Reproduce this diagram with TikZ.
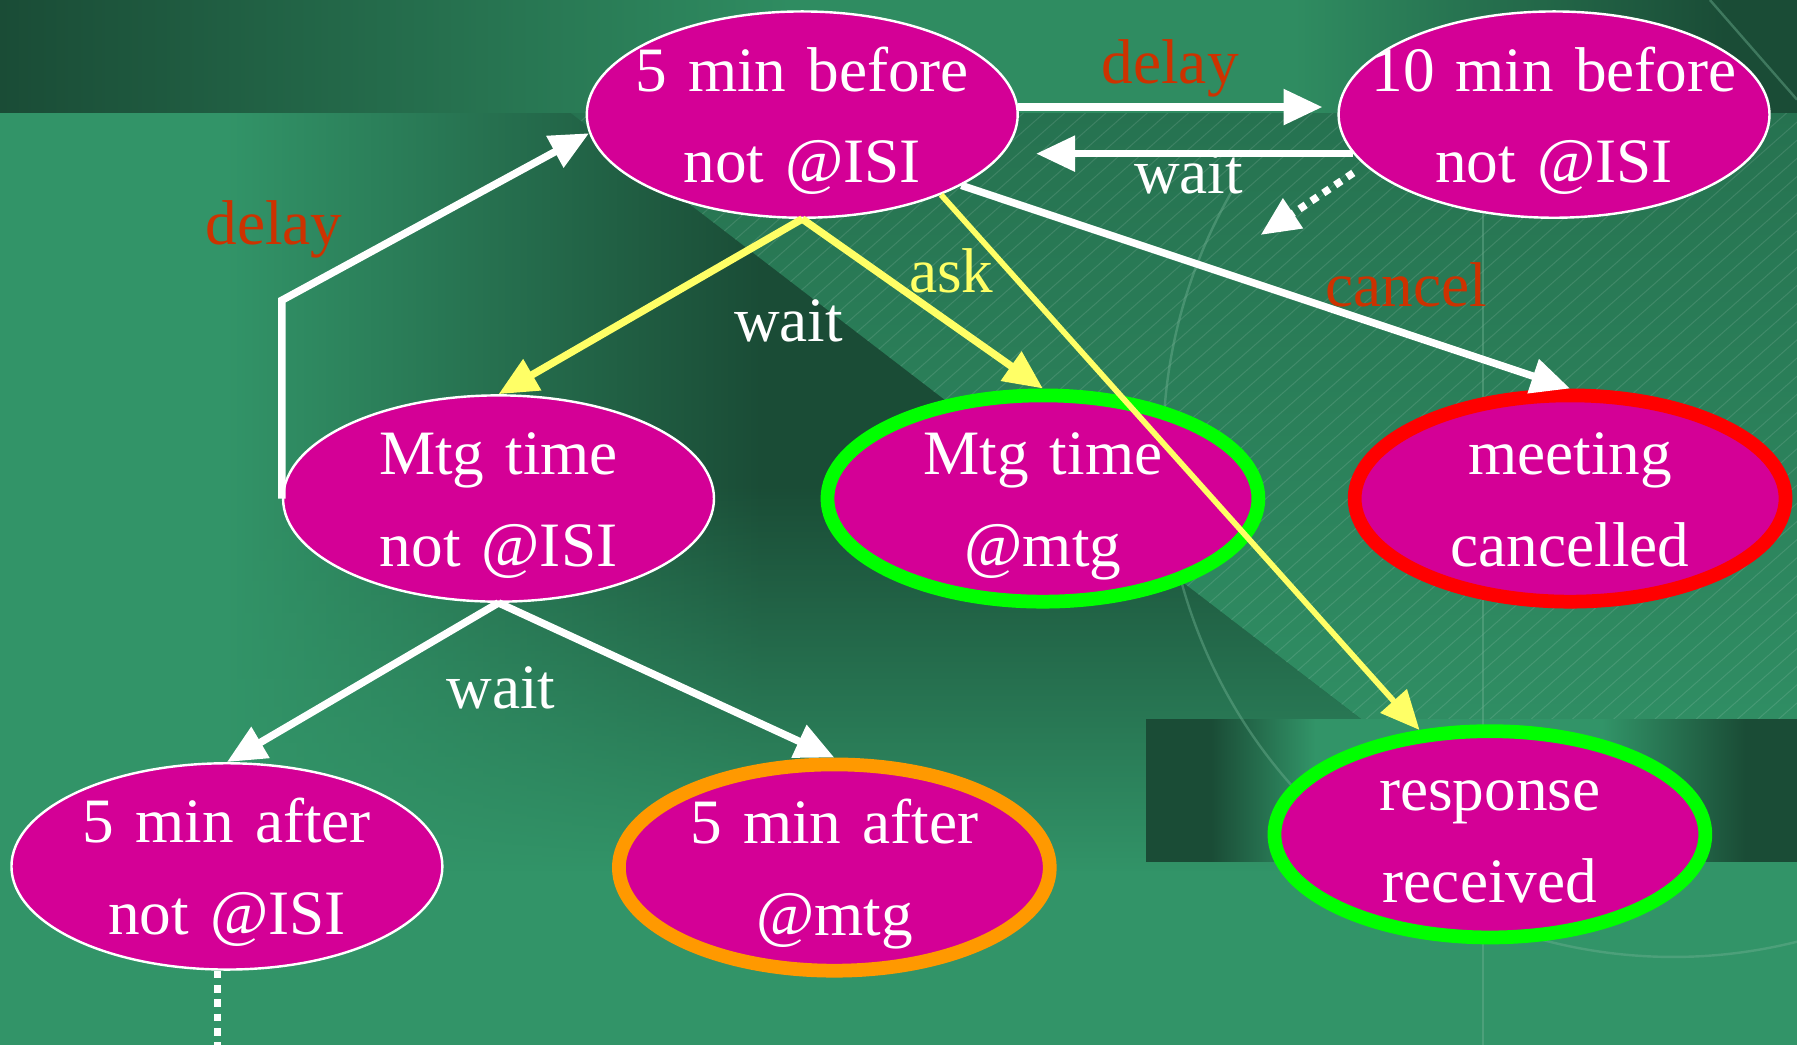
\documentclass[tikz,border=0pt]{standalone}
\usepackage{fontspec}
\setmainfont{Liberation Serif}
\usetikzlibrary{arrows.meta,shapes.geometric,fadings}

\definecolor{bgbase}{RGB}{50,148,104}
\definecolor{bgdark}{RGB}{26,76,54}
\definecolor{bgmid}{RGB}{38,114,80}
\definecolor{bglight}{RGB}{47,140,97}
\definecolor{stmag}{RGB}{212,0,150}
\definecolor{dlyred}{RGB}{205,50,0}
\definecolor{askyel}{RGB}{255,255,102}
\definecolor{okgreen}{RGB}{0,255,0}
\definecolor{badred}{RGB}{255,0,0}
\definecolor{lateorange}{RGB}{255,153,0}

\pgfdeclarehorizontalshading{topband}{100bp}{color(0bp)=(bgdark); color(25bp)=(bgdark); color(47bp)=(bglight); color(61bp)=(bglight); color(73bp)=(bgdark); color(100bp)=(bgdark)}
\pgfdeclarehorizontalshading{midband}{100bp}{color(0bp)=(bgbase); color(33bp)=(bgbase); color(52bp)=(bgdark); color(100bp)=(bgdark)}
\pgfdeclarehorizontalshading{lowband}{100bp}{color(0bp)=(bgdark); color(30bp)=(bgdark); color(38bp)=(bgbase); color(60bp)=(bgbase); color(71bp)=(bgdark); color(100bp)=(bgdark)}

\newcommand{\statefont}{\fontsize{15.7pt}{22.7pt}\selectfont}

\tikzset{
  state/.style={ellipse, draw=white, line width=0.6pt, fill=stmag, text=white,
    font=\statefont, minimum width=3.76cm, minimum height=1.8cm,
    text width=3.5cm, align=center, inner xsep=-0.6cm, inner ysep=0pt,
    text height=11pt, text depth=22.7pt},
  ring/.style={state, line width=0.12cm, draw=#1},
  trans/.style={draw=white, line width=0.065cm, -{Triangle[length=0.34cm,width=0.3cm]}},
  ytrans/.style={trans, draw=askyel},
  dotline/.style={draw=white, line width=0.065cm, dash pattern=on 0.065cm off 0.06cm},
  lbl/.style={font=\statefont, inner sep=0pt},
  hatch/.style={draw=white, opacity=0.11, line width=0.25pt},
  faint/.style={draw=bglight!70!white, opacity=0.45, line width=0.6pt}
}

\begin{document}
\begin{tikzpicture}
\useasboundingbox (0,0) rectangle (15.68,9.12);
\clip (0,0) rectangle (15.68,9.12);

% slide background
\fill[bgbase] (0,0) rectangle (15.68,9.12);
\shade[top color=bgmid, bottom color=bgbase] (0,1.52) rectangle (15.68,8.14);
\begin{scope}
  \clip (0,8.14) -- (4.97,8.14) -- (12.30,2.52) -- (12.30,1.52) -- (0,1.52) -- cycle;
  \shade[shading=midband] (0,1.52) rectangle (12.30,8.14);
  \fill[bgbase, path fading=north] (0,1.5) rectangle (12.4,4.9);
\end{scope}
\begin{scope}
  \clip (4.97,8.14) -- (15.68,8.14) -- (15.68,2.84) -- (11.88,2.84) -- cycle;
  \foreach \i in {0,...,98}
    \draw[hatch] ({-2+0.18*\i},2) -- ++(7,6.16);
\end{scope}
\shade[shading=topband] (0,8.14) rectangle (15.68,9.12);
\shade[shading=lowband] (10.00,1.60) rectangle (15.68,2.84);
\draw[faint] (14.92,9.12) -- (15.68,8.25);
\draw[faint] (12.94,0) -- (12.94,8.14);
\draw[faint] (14.60,5.22) ++(150:4.45) arc (150:290:4.45);

% states
\node[state] (bef5) at (7.00,8.12) {5 min before\\not @ISI};
\node[state] (bef10) at (13.56,8.12) {10 min before\\not @ISI};
\node[state] (mtgout) at (4.35,4.77) {Mtg time\\not @ISI};
\node[ring=okgreen] (mtgin) at (9.10,4.77) {Mtg time\\@mtg};
\node[ring=badred] (cancd) at (13.70,4.77) {meeting\\cancelled};
\node[state] (aftout) at (1.98,1.56) {5 min after\\not @ISI};
\node[ring=lateorange] (aftin) at (7.28,1.55) {5 min after\\@mtg};
\node[ring=okgreen] (resp) at (13.00,1.84) {response\\received};

\coordinate (bdot) at (11.00,7.07);
\coordinate (fend) at (1.90,0);

% transitions
\draw[trans] (mtgout.west) -- ++(0,1.73) -- (bef5.185);
\draw[trans, shorten >=0.13cm] (bef5.2) -- (bef10.west |- bef5.2);
\draw[trans, shorten >=0.15cm] (bef10.191) -- (bef5.east |- bef10.191);
\draw[dotline, -{Triangle[length=0.34cm,width=0.3cm]}, shorten <=0.12cm] (bef10.195) -- (bdot);
\draw[ytrans] (bef5.south) -- (mtgout.north);
\draw[ytrans] (bef5.south) -- (mtgin.north);
\draw[ytrans, line width=0.05cm] (bef5.-30) -- (resp.124);
\draw[trans] (bef5.-24) -- (cancd.north);
\draw[trans] (mtgout.south) -- (aftout.north);
\draw[trans] (mtgout.south) -- (aftin.north);
\draw[dotline] (aftout.south -| fend) -- (fend);

% labels
\node[lbl, text=dlyred] (dlyup) at (2.39,7.12) {delay};
\node[lbl, text=dlyred] (dlyfwd) at (10.21,8.52) {delay};
\node[lbl, text=white] (waitback) at (10.37,7.61) {wait};
\node[lbl, text=white] (waitA) at (6.88,6.32) {wait};
\node[lbl, text=askyel] (askA) at (8.30,6.76) {ask};
\node[lbl, text=dlyred] (cancA) at (12.27,6.63) {cancel};
\node[lbl, text=white] (waitC) at (4.37,3.12) {wait};
\end{tikzpicture}
\end{document}
